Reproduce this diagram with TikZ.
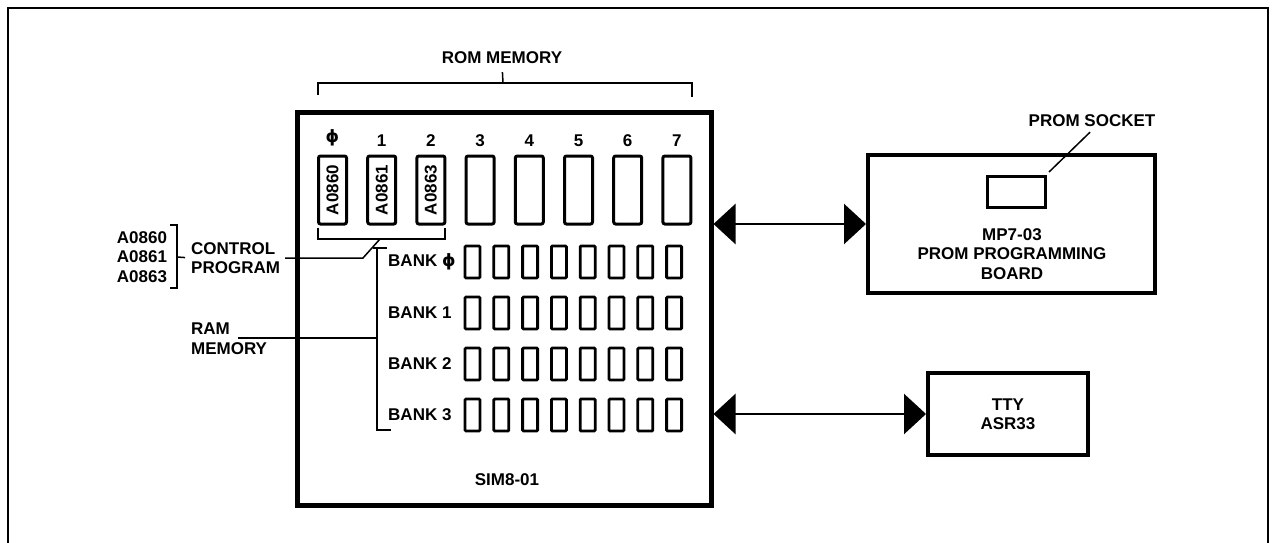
\documentclass[tikz,border=0pt]{standalone}
\usepackage{fontspec}
\setmainfont{Liberation Sans}
\newfontfamily\phifont{DejaVu Sans}
\usetikzlibrary{arrows.meta,positioning}
\tikzset{
  lbl/.style={font=\bfseries\fontsize{17}{19.5}\selectfont, inner sep=0pt, align=center},
  simbox/.style={draw, line width=5pt, inner sep=0pt,
    minimum width=414pt, minimum height=393pt},
  boardbox/.style={draw, line width=4pt, inner sep=0pt},
  socketbox/.style={draw, line width=3pt, inner sep=0pt,
    minimum width=58pt, minimum height=31pt},
  romchip/.style={draw, line width=3pt, rounded corners=2pt, inner sep=0pt,
    minimum width=28pt, minimum height=68pt},
  ramchip/.style={draw, line width=2.8pt, rounded corners=1pt, inner sep=0pt,
    minimum width=15pt, minimum height=32pt},
  leader/.style={line width=1.5pt},
  biarrow/.style={{Triangle[length=22pt,width=40pt]}-{Triangle[length=22pt,width=40pt]},
    line width=2.5pt}
}

\begin{document}
\begin{tikzpicture}[x=1pt,y=-1pt]
\useasboundingbox (0,0) rectangle (1272,543);
\draw[line width=2pt] (8,543) -- (8,8) -- (1268,8) -- (1268,543);

% main board
\node[simbox] (sim) at (504,308.5) {};
\node[lbl] (simname) at (507,480) {SIM8-01};

% ROM sockets
\foreach \i/\c in {0/\phifont ϕ,1/1,2/2,3/3,4/4,5/5,6/6,7/7} {
  \node[romchip] (rom\i) at ({332.5+49.2*\i},190) {};
  \node[lbl, above=8pt of rom\i] (col\i) {\c};
}
\node[lbl, rotate=90] at (rom0) {A0860};
\node[lbl, rotate=90] at (rom1) {A0861};
\node[lbl, rotate=90] at (rom2) {A0863};

% RAM banks
\foreach \r/\b in {0/\phifont ϕ,1/1,2/2,3/3} {
  \node[lbl, anchor=west] (bank\r) at (388,{262+51*\r}) {BANK \b};
  \foreach \i in {0,...,7}
    \node[ramchip] (ram\r\i) at ({472.5+28.8*\i},{262+51*\r}) {};
}

% ROM memory bracket
\node[lbl] (romlbl) at (502,58) {ROM MEMORY};
\draw[leader] (318,95) |- (692,83) -- (692,97);
\draw[leader, shorten >=8pt] (503,83) -- (romlbl.south);

% control program
\node[lbl, align=left] (parts) at (142,257) {A0860\\A0861\\A0863};
\node[lbl, align=left, anchor=west] (ctrl) at (191,258) {CONTROL\\PROGRAM};
\draw[leader] (170,225) -| (177,288) -- (170,288);
\draw[leader, shorten >=6pt] (177,257) -- (ctrl.west);
\draw[leader] (318,228) |- (445,239) -- (445,228);
\draw[leader, shorten >=5pt] (380,239) -- (363,258) -- (ctrl.east);

% RAM memory
\node[lbl, align=left, anchor=west] (ramlbl) at (191,338.5) {RAM\\MEMORY};
\coordinate (ramtip) at (238,338);
\draw[leader] (ramtip) -- (377,338);
\draw[leader] (373,248) -- (387,248);
\draw[leader] (377,248) |- (391,430);

% PROM programmer
\node[boardbox, minimum width=287pt, minimum height=138pt] (prom) at (1011.5,224) {};
\node[socketbox] (socket) at (1016,191.5) {};
\node[lbl] (promtxt) at (1012,254) {MP7-03\\PROM PROGRAMMING\\BOARD};
\node[lbl] (socklbl) at (1092,121) {PROM SOCKET};
\draw[leader] ([shift={(2.5,-2.5)}]socket.north east) -- ([shift={(-2,5)}]socklbl.south);

% teletype
\node[boardbox, lbl, minimum width=160pt, minimum height=82pt] (tty) at (1008,414) {TTY\\ASR33};

\draw[biarrow] (sim.east |- prom.west) -- (prom.west);
\draw[biarrow] (sim.east |- tty.west) -- (tty.west);
\end{tikzpicture}
\end{document}
